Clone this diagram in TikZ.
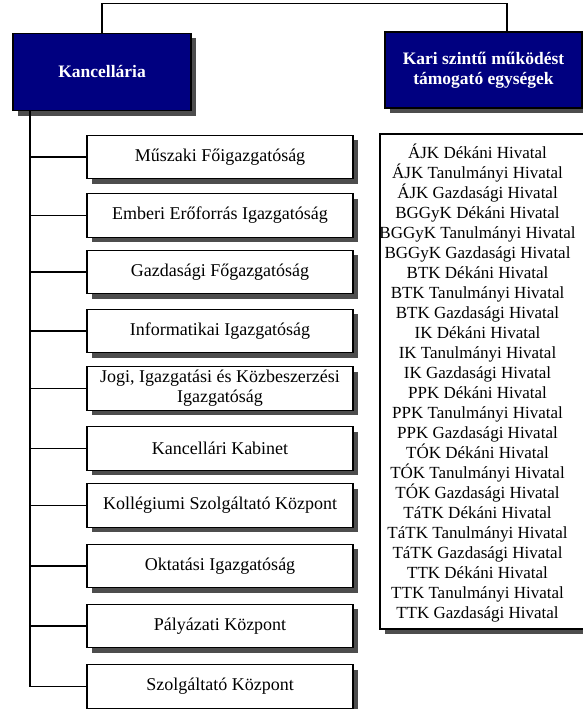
\documentclass[tikz,border=0pt]{standalone}
\usepackage{fontspec}
\setmainfont{Liberation Serif}
\usetikzlibrary{shadows}
\definecolor{navyb}{HTML}{000080}
\definecolor{shad}{HTML}{4D4D4D}
\begin{document}
\begin{tikzpicture}[x=1pt,y=-1pt,
  every path/.style={line width=1.2pt},
  shd/.style={drop shadow={shadow xshift=5pt,shadow yshift=-5pt,fill=shad,opacity=1}},
  headbox/.style={draw=black,fill=navyb,text=white,shd,align=center,inner sep=0pt,
    font=\fontsize{17.5}{20}\selectfont\bfseries},
  unitbox/.style={draw=black,fill=white,shd,align=center,inner sep=0pt,
    minimum width=266pt,minimum height=43.5pt,font=\fontsize{18}{20}\selectfont},
  conn/.style={draw=black,line width=1.2pt}]
\useasboundingbox (0,0) rectangle (583,709);
% heads
\node[headbox,minimum width=178pt,minimum height=77pt] (kanc) at (102,72) {Kancellária};
\node[headbox,minimum width=197pt,minimum height=76pt] (kari) at (483.5,70) {Kari szintű működést\\támogató egységek};
\coordinate (tl) at (102,3.5);
\coordinate (tr) at (507,3.5);
\draw[conn] (kanc.north) -- (tl) -- (tr) -- (tr |- kari.north);
% units
\node[unitbox] (u1) at (220,157) {Műszaki Főigazgatóság};
\node[unitbox] (u2) at (220,215.5) {Emberi Erőforrás Igazgatóság};
\node[unitbox] (u3) at (220,272) {Gazdasági Főgazgatóság};
\node[unitbox] (u4) at (220,331) {Informatikai Igazgatóság};
\node[unitbox] (u5) at (220,388.5) {Jogi, Igazgatási és Közbeszerzési\\Igazgatóság};
\node[unitbox] (u6) at (220,448.5) {Kancellári Kabinet};
\node[unitbox] (u7) at (220,505.5) {Kollégiumi Szolgáltató Központ};
\node[unitbox] (u8) at (220,566) {Oktatási Igazgatóság};
\node[unitbox] (u9) at (220,626) {Pályázati Központ};
\node[unitbox] (u10) at (220,686.5) {Szolgáltató Központ};
\coordinate (trunk) at (30,110.5);
\draw[conn] (trunk) -- (trunk |- u10.west);
\foreach \u in {u1,u2,u3,u4,u5,u6,u7,u8,u9,u10}{
  \draw[conn] (trunk |- \u.west) -- (\u.west);
}
% faculty list
\node[draw=black,fill=white,shd,minimum width=212pt,minimum height=495pt,inner sep=0pt] (list) at (486,381.5) {};
\node[align=center,inner sep=0pt,font=\fontsize{17}{20}\selectfont] (ltext) at (477.5,383) {%
ÁJK Dékáni Hivatal\\ÁJK Tanulmányi Hivatal\\ÁJK Gazdasági Hivatal\\%
BGGyK Dékáni Hivatal\\BGGyK Tanulmányi Hivatal\\BGGyK Gazdasági Hivatal\\%
BTK Dékáni Hivatal\\BTK Tanulmányi Hivatal\\BTK Gazdasági Hivatal\\%
IK Dékáni Hivatal\\IK Tanulmányi Hivatal\\IK Gazdasági Hivatal\\%
PPK Dékáni Hivatal\\PPK Tanulmányi Hivatal\\PPK Gazdasági Hivatal\\%
TÓK Dékáni Hivatal\\TÓK Tanulmányi Hivatal\\TÓK Gazdasági Hivatal\\%
TáTK Dékáni Hivatal\\TáTK Tanulmányi Hivatal\\TáTK Gazdasági Hivatal\\%
TTK Dékáni Hivatal\\TTK Tanulmányi Hivatal\\TTK Gazdasági Hivatal};
\end{tikzpicture}
\end{document}
